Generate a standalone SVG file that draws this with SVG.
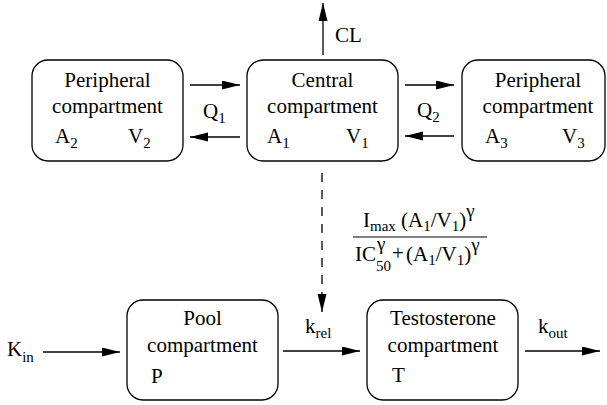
<svg xmlns="http://www.w3.org/2000/svg" width="607" height="405" viewBox="0 0 607 405">
<defs>
<marker id="ah" markerUnits="userSpaceOnUse" markerWidth="18" markerHeight="10" refX="18" refY="4.5" orient="auto">
<path d="M0,0 L18,4.5 L0,9 z" fill="#000"/>
</marker>
<style>
text{font-family:"Liberation Serif","Times New Roman",serif;font-size:21px;fill:#000}
.c{text-anchor:middle}
.s{font-size:15px}
.g{font-size:19px}
.box{fill:#fff;stroke:#000;stroke-width:1.3}
.ar{stroke:#000;stroke-width:1.3;fill:none;marker-end:url(#ah)}
</style>
</defs>
<rect width="607" height="405" fill="#fff"/>
<g id="periph1">
<rect class="box" x="32" y="60" width="151" height="101" rx="16"/>
<text class="c" x="107.5" y="87">Peripheral</text>
<text class="c" x="107.5" y="113">compartment</text>
<text x="55" y="143">A<tspan class="s" dy="5">2</tspan></text>
<text x="128" y="143">V<tspan class="s" dy="5">2</tspan></text>
</g>
<g id="central">
<rect class="box" x="247" y="60" width="151" height="101" rx="16"/>
<text class="c" x="322.5" y="87">Central</text>
<text class="c" x="322.5" y="113">compartment</text>
<text x="267" y="143">A<tspan class="s" dy="5">1</tspan></text>
<text x="346" y="143">V<tspan class="s" dy="5">1</tspan></text>
</g>
<g id="periph2">
<rect class="box" x="462" y="60" width="143" height="101" rx="16"/>
<text class="c" x="538" y="87">Peripheral</text>
<text class="c" x="538" y="113">compartment</text>
<text x="485" y="143">A<tspan class="s" dy="5">3</tspan></text>
<text x="562" y="143">V<tspan class="s" dy="5">3</tspan></text>
</g>
<g id="pool">
<rect class="box" x="127" y="300" width="151" height="100" rx="16"/>
<text class="c" x="202.5" y="325">Pool</text>
<text class="c" x="202.5" y="352">compartment</text>
<text x="151" y="383">P</text>
</g>
<g id="testosterone">
<rect class="box" x="367" y="300" width="151" height="100" rx="16"/>
<text class="c" x="443" y="325">Testosterone</text>
<text class="c" x="443" y="352">compartment</text>
<text x="392" y="382">T</text>
</g>
<g id="connectors">
<line class="ar" x1="190" y1="85" x2="240" y2="85"/>
<line class="ar" x1="240" y1="137" x2="190" y2="137"/>
<line class="ar" x1="405" y1="85" x2="454" y2="85"/>
<line class="ar" x1="454" y1="136" x2="405" y2="136"/>
<line class="ar" x1="323" y1="55" x2="323" y2="3"/>
<line class="ar" x1="322" y1="173" x2="322" y2="312" stroke-dasharray="9,8"/>
<line class="ar" x1="43" y1="352" x2="120" y2="352"/>
<line class="ar" x1="283" y1="351" x2="360" y2="351"/>
<line class="ar" x1="525" y1="351" x2="600" y2="351"/>
</g>
<g id="labels">
<text x="203" y="118">Q<tspan class="s" dy="5">1</tspan></text>
<text x="417" y="117">Q<tspan class="s" dy="5">2</tspan></text>
<text x="335" y="42">CL</text>
<text x="7" y="356">K<tspan class="s" dy="6">in</tspan></text>
<text x="305" y="333">k<tspan class="s" dy="5">rel</tspan></text>
<text x="538" y="333">k<tspan class="s" dy="5">out</tspan></text>
</g>
<g id="formula">
<text x="363" y="227">I<tspan class="s" dy="4">max</tspan><tspan dy="-4"> (A</tspan><tspan class="s" dy="4">1</tspan><tspan dy="-4">/V</tspan><tspan class="s" dy="4">1</tspan><tspan dy="-4">)</tspan><tspan class="g" dy="-10">γ</tspan></text>
<line x1="353" y1="237" x2="487" y2="237" stroke="#000" stroke-width="1.2"/>
<text x="355" y="261">IC</text>
<text class="g" x="377" y="250">γ</text>
<text class="s" x="376" y="271">50</text>
<text x="392" y="260">+</text>
<text x="406" y="261">(A<tspan class="s" dy="4">1</tspan><tspan dy="-4">/V</tspan><tspan class="s" dy="4">1</tspan><tspan dy="-4">)</tspan><tspan class="g" dy="-10">γ</tspan></text>
</g>
</svg>
